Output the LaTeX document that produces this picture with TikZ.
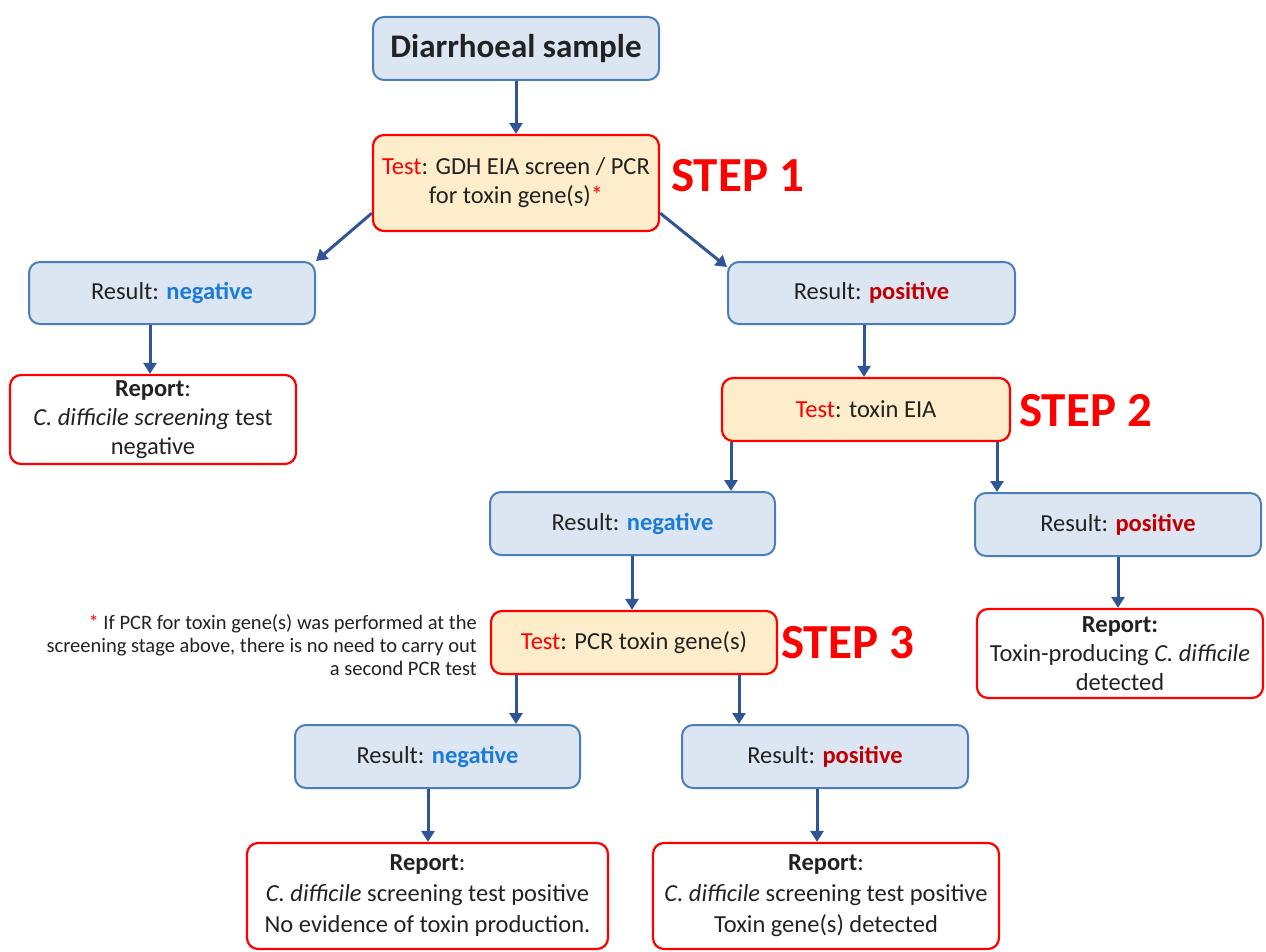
\documentclass[tikz,border=0pt]{standalone}
\usepackage{fontspec}
\setmainfont{Carlito}
\usetikzlibrary{arrows.meta}
\definecolor{boxblue}{HTML}{DCE6F2}
\definecolor{edgeblue}{HTML}{4A7EBB}
\definecolor{boxpeach}{HTML}{FDEDCB}
\definecolor{arrblue}{HTML}{2F5597}
\definecolor{negblue}{HTML}{1C7CD5}
\definecolor{posred}{HTML}{C00000}
\definecolor{txt}{HTML}{222222}
\tikzset{
  base/.style={rounded corners=11pt, align=center, inner sep=2pt, text=txt},
  resbox/.style={base, draw=edgeblue, line width=2pt, fill=boxblue, minimum width=#1, minimum height=62pt, font=\fontsize{24.5}{29}\selectfont},
  testbox/.style={base, draw=red, line width=2.2pt, fill=boxpeach, minimum width=#1, font=\fontsize{24.5}{29}\selectfont},
  repbox/.style={base, draw=red, line width=2.2pt, fill=white, minimum width=#1, font=\fontsize{24.5}{29}\selectfont},
  steplbl/.style={text=red, font=\fontsize{49}{49}\selectfont\bfseries, inner sep=0pt},
  arr/.style={draw=arrblue, line width=3pt, -{Triangle[width=13pt,length=11pt]}},
}
\newcommand{\neglbl}{\textcolor{negblue}{\textbf{negative}}}
\newcommand{\poslbl}{\textcolor{posred}{\textbf{positive}}}
\newcommand{\testlbl}{\textcolor{red}{Test}}
\begin{document}
\begin{tikzpicture}[x=1pt,y=-1pt]
\useasboundingbox (0,0) rectangle (1266,952);
% boxes
\node[base, draw=edgeblue, line width=2pt, fill=boxblue, minimum width=286pt, minimum height=63pt, font=\fontsize{33}{35}\selectfont\bfseries] (dia) at (516,48.5) {Diarrhoeal sample};
\node[testbox=286pt, minimum height=96pt] (t1) at (516,183) {\testlbl: GDH EIA screen / PCR\\for toxin gene(s)\textcolor{red}{*}};
\node[resbox=286pt] (n1) at (172,293) {Result: \neglbl};
\node[resbox=287pt] (p1) at (871.5,293) {Result: \poslbl};
\node[repbox=286pt, minimum height=89pt] (r1) at (153,419.5) {\textbf{Report}:\\\textit{C. difficile screening} test\\negative};
\node[testbox=288pt, minimum height=63pt] (t2) at (866,409.5) {\testlbl: toxin EIA};
\node[resbox=285pt, minimum height=63pt] (n2) at (632.5,523.5) {Result: \neglbl};
\node[resbox=286pt, minimum height=63pt] (p2) at (1118,524.5) {Result: \poslbl};
\node[testbox=286pt, minimum height=63pt] (t3) at (634,642.5) {\testlbl: PCR toxin gene(s)};
\node[repbox=286pt, minimum height=89pt] (r2) at (1120,653.5) {\textbf{Report:}\\Toxin-producing \textit{C. difficile}\\detected};
\node[resbox=285pt, minimum height=63pt] (n3) at (437.5,756.5) {Result: \neglbl};
\node[resbox=286pt, minimum height=63pt] (p3) at (825,756.5) {Result: \poslbl};
\node[repbox=361pt, minimum height=106pt, font=\fontsize{24.5}{31}\selectfont] (r3) at (427.5,896) {\textbf{Report}:\\\textit{C. difficile} screening test positive\\No evidence of toxin production.};
\node[repbox=346pt, minimum height=106pt, font=\fontsize{24.5}{31}\selectfont] (r4) at (826,896) {\textbf{Report}:\\\textit{C. difficile} screening test positive\\Toxin gene(s) detected};
% step labels
\node[steplbl, anchor=west] (s1) at (671,176) {STEP 1};
\node[steplbl, anchor=west] (s2) at (1019,411) {STEP 2};
\node[steplbl, anchor=west] (s3) at (781,643) {STEP 3};
% footnote
\node[anchor=east, align=right, inner sep=0pt, text=txt, font=\fontsize{20.5}{23}\selectfont] (fn) at (477,645) {\textcolor{red}{*} If PCR for toxin gene(s) was performed at the\\screening stage above, there is no need to carry out\\a second PCR test};
% arrows
\draw[arr] (dia.south) -- (t1.north);
\draw[arr] ([yshift=19pt]t1.south west) -- (n1.north east);
\draw[arr] ([yshift=19pt]t1.south east) -- ([yshift=-6pt]p1.north west);
\draw[arr] ([xshift=-22pt]n1.south) -- ([xshift=-22pt]n1.south |- r1.north);
\draw[arr] ([xshift=-7.5pt]p1.south) -- ([xshift=-7.5pt]p1.south |- t2.north);
\draw[arr] ([xshift=-135pt]t2.south) -- ([xshift=-135pt]t2.south |- n2.north);
\draw[arr] ([xshift=131pt]t2.south) -- ([xshift=131pt]t2.south |- p2.north);
\draw[arr] ([xshift=-0.5pt]n2.south) -- ([xshift=-0.5pt]n2.south |- t3.north);
\draw[arr] (p2.south) -- (p2.south |- r2.north);
\draw[arr] ([xshift=-118pt]t3.south) -- ([xshift=-118pt]t3.south |- n3.north);
\draw[arr] ([xshift=105pt]t3.south) -- ([xshift=105pt]t3.south |- p3.north);
\draw[arr] ([xshift=-9.5pt]n3.south) -- ([xshift=-9.5pt]n3.south |- r3.north);
\draw[arr] ([xshift=-8pt]p3.south) -- ([xshift=-8pt]p3.south |- r4.north);
\end{tikzpicture}
\end{document}
